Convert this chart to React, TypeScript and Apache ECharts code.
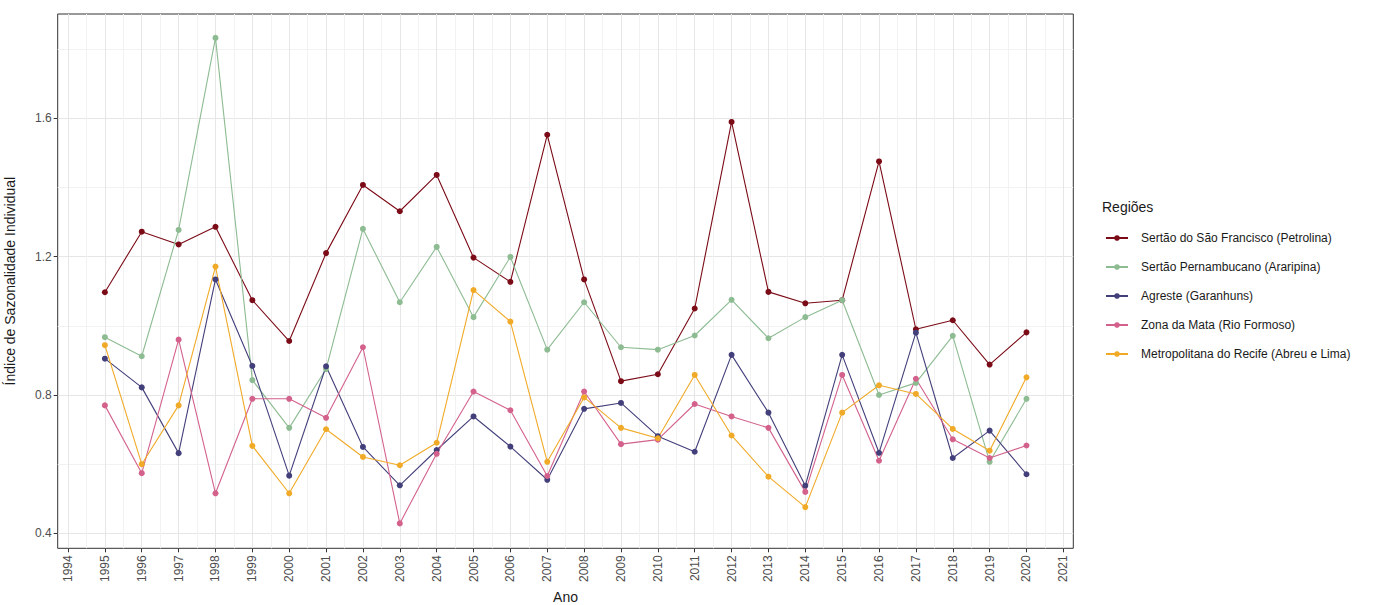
import React, { useEffect, useRef } from "react";
import * as echarts from "echarts";

// Years covered by each regional series
const years = [
  1995, 1996, 1997, 1998, 1999, 2000, 2001, 2002, 2003, 2004, 2005, 2006, 2007,
  2008, 2009, 2010, 2011, 2012, 2013, 2014, 2015, 2016, 2017, 2018, 2019, 2020,
];

const regionNames = [
  "Sertão do São Francisco (Petrolina)",
  "Sertão Pernambucano (Araripina)",
  "Agreste (Garanhuns)",
  "Zona da Mata (Rio Formoso)",
  "Metropolitana do Recife (Abreu e Lima)",
];

const sertaoSaoFrancisco = [
  1.097, 1.272, 1.235, 1.286, 1.074, 0.956, 1.21, 1.407, 1.331, 1.436, 1.197,
  1.127, 1.552, 1.134, 0.84, 0.86, 1.05, 1.589, 1.098, 1.065, 1.074, 1.475,
  0.99, 1.016, 0.888, 0.981,
];
const sertaoPernambucano = [
  0.967, 0.912, 1.277, 1.832, 0.843, 0.705, 0.875, 1.28, 1.068, 1.228, 1.025,
  1.199, 0.931, 1.068, 0.938, 0.931, 0.972, 1.075, 0.964, 1.025, 1.074, 0.8,
  0.835, 0.971, 0.607, 0.789,
];
const agreste = [
  0.905, 0.822, 0.632, 1.134, 0.884, 0.567, 0.883, 0.65, 0.539, 0.641, 0.738,
  0.651, 0.555, 0.76, 0.777, 0.681, 0.636, 0.916, 0.749, 0.538, 0.916, 0.633,
  0.98, 0.618, 0.697, 0.571,
];
const zonaDaMata = [
  0.77, 0.574, 0.96, 0.516, 0.789, 0.789, 0.734, 0.938, 0.429, 0.63, 0.81,
  0.756, 0.566, 0.81, 0.658, 0.671, 0.774, 0.738, 0.705, 0.52, 0.858, 0.61,
  0.847, 0.672, 0.618, 0.654,
];
const metropolitana = [
  0.944, 0.6, 0.77, 1.171, 0.653, 0.516, 0.701, 0.621, 0.597, 0.662, 1.103,
  1.012, 0.607, 0.793, 0.705, 0.675, 0.858, 0.683, 0.564, 0.476, 0.749, 0.828,
  0.803, 0.702, 0.639, 0.851,
];

const seriesValues = [
  sertaoSaoFrancisco,
  sertaoPernambucano,
  agreste,
  zonaDaMata,
  metropolitana,
];
const seriesColors = ["#7B0B16", "#8DBB92", "#423F7A", "#D3618C", "#F0AA28"];

// Axis breaks
const xMajorTicks = [
  1994, 1995, 1996, 1997, 1998, 1999, 2000, 2001, 2002, 2003, 2004, 2005, 2006,
  2007, 2008, 2009, 2010, 2011, 2012, 2013, 2014, 2015, 2016, 2017, 2018, 2019,
  2020, 2021,
];
const xMinorTicks = xMajorTicks.slice(0, -1).map((y) => y + 0.5);
const yMajorTicks = [0.4, 0.8, 1.2, 1.6];
const yMinorTicks = [0.6, 1.0, 1.4, 1.8];

const X_MIN = 1993.72;
const X_MAX = 2021.27;
const Y_MIN = 0.357;
const Y_MAX = 1.901;

export default function App() {
  const ref = useRef<HTMLDivElement>(null);

  useEffect(() => {
    if (!ref.current) return;
    const chart = echarts.init(ref.current, undefined, { renderer: "svg" });
    const font = "Liberation Sans, Arial, sans-serif";

    const option: any = {
      animation: false,
      backgroundColor: "#ffffff",
      textStyle: { fontFamily: font },
      title: {
        text: "Regiões",
        left: 1097,
        top: 195,
        textStyle: {
          fontFamily: font,
          fontSize: 14,
          fontWeight: "normal",
          color: "#1a1a1a",
        },
      },
      legend: {
        orient: "vertical",
        left: 1100,
        top: 226,
        itemWidth: 22,
        itemHeight: 7,
        itemGap: 15,
        data: regionNames,
        textStyle: {
          fontFamily: font,
          fontSize: 12,
          lineHeight: 14,
          color: "#1a1a1a",
          padding: [0, 0, 0, 8],
        },
      },
      grid: {
        left: 57.7,
        top: 14,
        width: 1015.6,
        height: 534.3,
        outerBoundsMode: "none",
        containLabel: false,
        show: true,
        borderColor: "#333333",
        borderWidth: 1,
        backgroundColor: "transparent",
      },
      xAxis: [
        {
          type: "value",
          min: X_MIN,
          max: X_MAX,
          name: "Ano",
          nameLocation: "middle",
          nameGap: 42,
          nameTextStyle: { fontFamily: font, fontSize: 14, color: "#1a1a1a" },
          axisLine: { show: false },
          axisTick: {
            show: true,
            length: 4,
            customValues: xMajorTicks,
            lineStyle: { color: "#333333", width: 1 },
          },
          axisLabel: {
            customValues: xMajorTicks,
            rotate: 90,
            margin: 7,
            fontFamily: font,
            fontSize: 12,
            color: "#4d4d4d",
            formatter: (v: number) => String(Math.round(v)),
          },
          splitLine: {
            show: true,
            lineStyle: { color: "#e6e6e6", width: 1 },
          },
        },
        {
          type: "value",
          min: X_MIN,
          max: X_MAX,
          position: "top",
          axisLine: { show: false },
          axisTick: { show: false, customValues: xMinorTicks },
          axisLabel: { show: false, customValues: xMinorTicks },
          splitLine: {
            show: true,
            lineStyle: { color: "#f2f2f2", width: 1 },
          },
        },
      ],
      yAxis: [
        {
          type: "value",
          min: Y_MIN,
          max: Y_MAX,
          name: "Índice de Sazonalidade Individual",
          nameLocation: "middle",
          nameGap: 41,
          nameTextStyle: { fontFamily: font, fontSize: 14, color: "#1a1a1a" },
          axisLine: { show: false },
          axisTick: {
            show: true,
            length: 4,
            customValues: yMajorTicks,
            lineStyle: { color: "#333333", width: 1 },
          },
          axisLabel: {
            customValues: yMajorTicks,
            margin: 6,
            fontFamily: font,
            fontSize: 12,
            color: "#4d4d4d",
            formatter: (v: number) => v.toFixed(1),
          },
          splitLine: {
            show: true,
            lineStyle: { color: "#e6e6e6", width: 1 },
          },
        },
        {
          type: "value",
          min: Y_MIN,
          max: Y_MAX,
          position: "right",
          axisLine: { show: false },
          axisTick: { show: false, customValues: yMinorTicks },
          axisLabel: { show: false, customValues: yMinorTicks },
          splitLine: {
            show: true,
            lineStyle: { color: "#f2f2f2", width: 1 },
          },
        },
      ],
      series: regionNames.map((name, i) => ({
        name,
        type: "line",
        xAxisIndex: 0,
        yAxisIndex: 0,
        data: years.map((yr, j) => [yr, seriesValues[i][j]]),
        symbol: "circle",
        symbolSize: 6,
        color: seriesColors[i],
        itemStyle: { color: seriesColors[i] },
        lineStyle: { color: seriesColors[i], width: 1.1 },
        emphasis: { disabled: true },
      })),
    };

    chart.setOption(option);
    return () => chart.dispose();
  }, []);

  return (
    <div
      ref={ref}
      style={{
        position: "absolute",
        left: 0,
        top: 0,
        width: 1374,
        height: 605,
      }}
    />
  );
}
